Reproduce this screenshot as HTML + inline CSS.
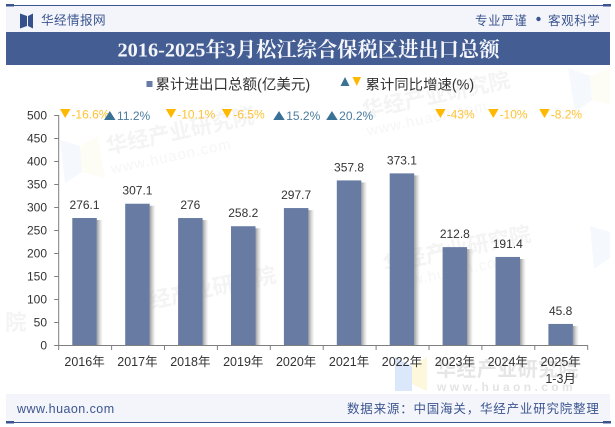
<!DOCTYPE html>
<html lang="zh">
<head>
<meta charset="utf-8">
<title>2016-2025年3月松江综合保税区进出口总额</title>
<style>
html,body{margin:0;padding:0;background:#fff;}
body{width:615px;height:427px;overflow:hidden;}
svg{display:block;}
text{font-family:"Liberation Sans","Noto Sans CJK SC",sans-serif;}
</style>
</head>
<body>
<svg id="chart" xmlns="http://www.w3.org/2000/svg" width="615" height="427" viewBox="0 0 615 427">
<defs>
<linearGradient id="shadowGrad" x1="0" x2="1" y1="0" y2="0">
<stop offset="0" stop-color="#8a8a8a" stop-opacity="0.85"/>
<stop offset="1" stop-color="#bbbbbb" stop-opacity="0"/>
</linearGradient>
</defs>
<rect width="615" height="427" fill="#ffffff"/>

<g>
<g fill="#f4f4f4" font-weight="700" font-size="21.500">
<text transform="translate(108,154) rotate(-12)">华经产业研究院</text>
<text transform="translate(364,118) rotate(-12)">华经产业研究院</text>
<text transform="translate(130,313) rotate(-12)">华经产业研究院</text>
<text transform="translate(385,272) rotate(-12)">华经产业研究院</text>
<text x="5" y="330">院</text>
</g>
<g fill="#f6f6f6" font-size="15" letter-spacing="1">
<text transform="translate(112,174) rotate(-12)">www.huaon.com</text>
<text transform="translate(368,136) rotate(-12)">www.huaon.com</text>
<text transform="translate(390,290) rotate(-12)">www.huaon.com</text>
</g>
<polygon points="60,140 80,146 82,172 65,183" fill="#f5f8fd"/>
<polygon points="80,146 98,136 105,178 82,172" fill="#fefdf5"/>
<polygon points="568,68 590,76 592,100 575,112" fill="#f5f8fd"/>
<polygon points="590,76 610,68 610,105 592,100" fill="#fefdf5"/>
<polygon points="590,226 610,232 610,258 594,269" fill="#f5f8fd"/>
<polygon points="395,357 412,366 412,391 395,391" fill="#dbe8fb"/>
<polygon points="412,366 427,357 427,391 412,384" fill="#fdf7dc"/>
<text x="436" y="376" font-size="20" font-weight="700" fill="#e6e6e6" letter-spacing="0.4">华经产业研究院</text>
<text x="437" y="391" font-size="12" font-weight="700" fill="#e4e4e4" letter-spacing="3.4">www.huaon.com</text>
</g>

<g>
<rect x="6" y="5" width="604" height="27" fill="#f3f5fa"/>
<rect x="6" y="5" width="604" height="1" fill="#3c5590"/>
<rect x="6" y="4" width="8" height="2.500" fill="#3c5590"/>
<rect x="603" y="4" width="8" height="2.500" fill="#3c5590"/>
<g fill="#35508c">
<polygon points="20,13.500 27,16 27,26 20,28.500"/>
<polygon points="33,13.500 33,28.500 28,26 28,16"/>
</g>
<text x="41" y="24.500" font-size="12.600" fill="#3c5590" letter-spacing="0.4">华经情报网</text>
<text x="475" y="25" font-size="12.500" fill="#3c5590" letter-spacing="0.6">专业严谨</text>
<circle cx="538.500" cy="19" r="2.200" fill="#3c5590"/>
<text x="548" y="25" font-size="12.500" fill="#3c5590" letter-spacing="0.6">客观科学</text>
<rect x="6" y="32" width="604" height="33" fill="#445d93"/>
<text x="308.500" y="56.500" text-anchor="middle" font-size="20.300" font-weight="700" fill="#f4f6fa" style="font-family:'Liberation Serif','Noto Serif CJK SC',serif">2016-2025年3月松江综合保税区进出口总额</text>
</g>

<g>
<rect x="146.500" y="81" width="6" height="6" fill="#677ba3"/>
<text x="155.500" y="89.500" font-size="14.500" fill="#333">累计进出口总额(亿美元)</text>
<polygon points="340.500,86 349.500,86 345,77" fill="#3a7296"/>
<polygon points="352.500,77 361,77 356.800,86" fill="#ffb800"/>
<text x="365.500" y="89.500" font-size="14.400" fill="#333">累计同比增速(%)</text>
</g>

<g id="plot"></g>

<g>
<rect x="6" y="394" width="604" height="28" fill="#f3f5fa"/>
<rect x="6" y="422" width="604" height="1" fill="#3c5590"/>
<rect x="6" y="421" width="8" height="2.500" fill="#3c5590"/>
<rect x="603" y="421" width="8" height="2.500" fill="#3c5590"/>
<text x="17" y="413" font-size="12.500" fill="#3c5590" letter-spacing="0.45">www.huaon.com</text>
<text x="347" y="413" font-size="12.500" fill="#3c5590" letter-spacing="0.8">数据来源：中国海关，华经产业研究院整理</text>
</g>
</svg>
<script>
var categories = ['2016年', '2017年', '2018年', '2019年', '2020年', '2021年', '2022年', '2023年', '2024年', '2025年'];
var categorySublabels = ['', '', '', '', '', '', '', '', '', '1-3月'];
var totalValues = [276.1, 307.1, 276, 258.2, 297.7, 357.8, 373.1, 212.8, 191.4, 45.8];
var growthValues = [-16.6, 11.2, -10.1, -6.5, 15.2, 20.2, null, -43, -10, -8.2];
var yTicks = [0, 50, 100, 150, 200, 250, 300, 350, 400, 450, 500];

var NS = 'http://www.w3.org/2000/svg';
var plot = document.getElementById('plot');
var left = 58.7, right = 587.7, baseY = 345, topY = 115, yMax = 500;
var band = (right - left) / categories.length;
var barW = 24.5;
function xAxis(i) { return left + band * i + band / 2; }
function yAxis(v) { return baseY - (v / yMax) * (baseY - topY); }
function make(tag, attrs, parent) {
  var el = document.createElementNS(NS, tag);
  for (var k in attrs) el.setAttribute(k, attrs[k]);
  (parent || plot).appendChild(el);
  return el;
}

categories.forEach(function (c, i) {
  var cx = xAxis(i) - 0.6, y = yAxis(totalValues[i]), x = cx - barW / 2;
  var shadow = make('rect', {x: x + barW, y: y + 2, width: 6, height: baseY - y - 2, fill: 'url(#shadowGrad)'});
  
  
  var bar = make('rect', {x: x, y: y, width: barW, height: baseY - y, fill: '#677ba3'});
  
  
  var label = make('text', {x: cx, y: y - 9, 'text-anchor': 'middle', 'font-size': 12, fill: '#333'});
  
  
  label.textContent = totalValues[i];
});

var axisY = make('line', {x1: left, x2: left, y1: topY, y2: baseY, stroke: '#7f7f7f', 'stroke-width': 1});


var axisX = make('line', {x1: left, x2: right, y1: baseY + 0.5, y2: baseY + 0.5, stroke: '#7f7f7f', 'stroke-width': 1});



yTicks.forEach(function (t) {
  var y = yAxis(t);
  var tick = make('line', {x1: left - 4.5, x2: left, y1: y + 0.5, y2: y + 0.5, stroke: '#7f7f7f', 'stroke-width': 1});
  
  
  var lab = make('text', {x: 47, y: y + 4.5, 'text-anchor': 'end', 'font-size': 12, fill: '#333'});
  
  
  lab.textContent = t;
});

for (var k = 0; k <= categories.length; k++) {
  var tx = left + band * k;
  var xt = make('line', {x1: tx, x2: tx, y1: baseY, y2: baseY + 5, stroke: '#7f7f7f', 'stroke-width': 1});
  
  
}

categories.forEach(function (c, i) {
  var cx = xAxis(i) - 0.6;
  var lab = make('text', {x: cx, y: 366, 'text-anchor': 'middle', 'font-size': 12.5, fill: '#333'});
  
  
  lab.textContent = c;
  if (categorySublabels[i]) {
    var sub = make('text', {x: cx, y: 383, 'text-anchor': 'middle', 'font-size': 12.5, fill: '#333'});
    
    
    sub.textContent = categorySublabels[i];
  }
});

growthValues.forEach(function (g, i) {
  if (g === null) return;
  var up = g >= 0;
  var color = up ? '#3a7296' : '#ffb800';
  var textColor = up ? '#4a7c9e' : '#ffc233';
  var str = g + '%';
  var approxW = 12 + str.length * 6.4 - (str.indexOf('.') >= 0 ? 3 : 0);
  var shift = up ? (i === 1 ? -13.5 : -3) : -1.5;
  var gx = xAxis(i) - approxW / 2 + shift;
  var pts = up
    ? [[gx, 120], [gx + 11.5, 120], [gx + 5.75, 111]]
    : [[gx, 109], [gx + 10.5, 109], [gx + 5.25, 118]];
  var tri = make('polygon', {points: pts.map(function (p) { return p.join(','); }).join(' '), fill: color});
  
  
  var t = make('text', {x: gx + (up ? 13 : 11.5), y: up ? 120 : 118.5, 'font-size': 12, fill: textColor});
  
  
  t.textContent = str;
});
</script>
</body>
</html>
